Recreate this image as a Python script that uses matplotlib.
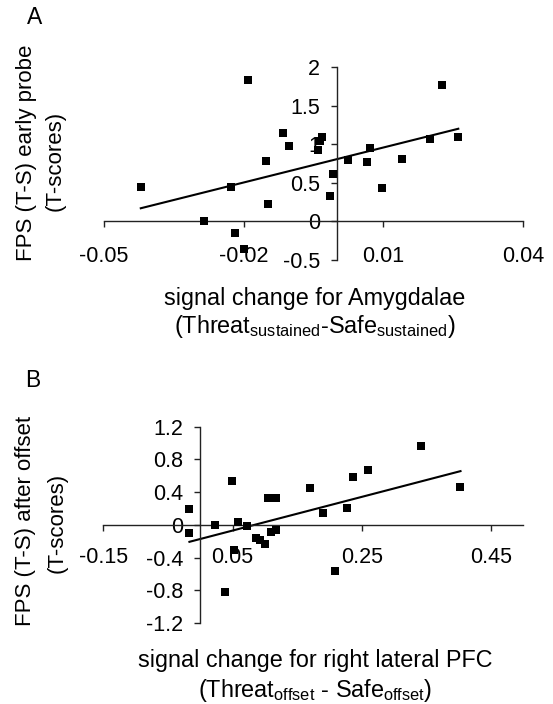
import matplotlib
matplotlib.use("Agg")
import matplotlib.pyplot as plt
import numpy as np

plt.rcParams['font.family'] = ['Liberation Sans', 'DejaVu Sans']
plt.rcParams['mathtext.default'] = 'regular'

# Panel A data
a_x = [-0.0421, -0.0190, -0.0228, -0.0286, -0.0219, -0.0199, -0.0151, -0.0148,
       -0.0115, -0.0103, -0.0031, -0.0036, -0.0041, -0.0009, -0.0015, 0.0024,
       0.0065, 0.0071, 0.0097, 0.0140, 0.0201, 0.0226, 0.0261]
a_y = [0.44, 1.83, 0.44, 0.00, -0.15, -0.36, 0.78, 0.22, 1.14, 0.98, 1.09, 1.04,
       0.92, 0.61, 0.33, 0.80, 0.77, 0.95, 0.43, 0.81, 1.07, 1.77, 1.09]
a_trend = (15.1, 0.806)  # slope, intercept
a_xticks = [-0.05, -0.02, 0.01, 0.04]
a_xticklabels = ['-0.05', '-0.02', '0.01', '0.04']
a_yticks = [-0.5, 0, 0.5, 1, 1.5, 2]
a_yticklabels = ['-0.5', '0', '0.5', '1', '1.5', '2']

# Panel B data
b_x = [-0.0167, -0.0167, 0.0228, 0.0489, 0.0530, 0.0577, 0.0730, 0.0858, 0.0925,
       0.0997, 0.1050, 0.1166, 0.1090, 0.1177, 0.1705, 0.1900, 0.2085, 0.2279,
       0.2361, 0.2602, 0.3423, 0.4028, 0.0386]
b_y = [0.19, -0.10, 0.00, 0.54, -0.31, 0.04, -0.02, -0.16, -0.18, -0.23, 0.33,
       0.33, -0.09, -0.06, 0.45, 0.14, -0.56, 0.21, 0.59, 0.67, 0.96, 0.46, -0.82]
b_trend = (2.06, -0.173)
b_xticks = [-0.15, 0.05, 0.25, 0.45]
b_xticklabels = ['-0.15', '0.05', '0.25', '0.45']
b_yticks = [-1.2, -0.8, -0.4, 0, 0.4, 0.8, 1.2]
b_yticklabels = ['-1.2', '-0.8', '-0.4', '0', '0.4', '0.8', '1.2']

W, H = 553, 704
fig = plt.figure(figsize=(W / 100, H / 100), dpi=100)

FS = 15.5
FS_X = 16.8
FS_Y = 16.0


def px_axes(x0, x1, ytop, ybot):
    return fig.add_axes([x0 / W, 1 - ybot / H, (x1 - x0) / W, (ybot - ytop) / H])


def style(ax, xs, ys, trend, xt, xtl, yt, ytl, xlim, ylim, xpad):
    ax.scatter(xs, ys, marker='s', s=30, color='black', linewidths=0, zorder=3)
    xx = np.array([min(xs), max(xs)])
    ax.plot(xx, trend[0] * xx + trend[1], color='black', lw=1.5, zorder=2)
    ax.set_xlim(*xlim)
    ax.set_ylim(*ylim)
    for s in ['top', 'right']:
        ax.spines[s].set_visible(False)
    ax.spines['left'].set_position(('data', 0))
    ax.spines['bottom'].set_position(('data', 0))
    for s in ['left', 'bottom']:
        ax.spines[s].set_linewidth(1.0)
        ax.spines[s].set_color('#222222')
    ax.set_xticks(xt)
    ax.set_xticklabels(xtl)
    ax.set_yticks(yt)
    ax.set_yticklabels(ytl)
    ax.tick_params(axis='x', direction='out', length=4.5, width=1, pad=xpad,
                   labelsize=FS, color='#222222')
    ax.tick_params(axis='y', direction='out', length=4.5, width=1, pad=7.5,
                   labelsize=FS, color='#222222')
    ax.patch.set_alpha(0)


axA = px_axes(104, 523, 67, 260)
style(axA, a_x, a_y, a_trend, a_xticks, a_xticklabels, a_yticks, a_yticklabels,
      (-0.05, 0.04), (-0.5, 2), 13)

axB = px_axes(103.3, 523.3, 426.7, 623)
style(axB, b_x, b_y, b_trend, b_xticks, b_xticklabels, b_yticks, b_yticklabels,
      (-0.15, 0.5), (-1.2, 1.2), 11.5)


def ftext(x, y, s, fs=FS, **kw):
    fig.text(x / W, 1 - y / H, s, fontsize=fs, ha='center', va='center', **kw)


ftext(35, 18, 'A', fs=16.5)
ftext(33, 381, 'B', fs=16.5)

ftext(27, 153, 'FPS (T-S) early probe', fs=FS_Y, rotation=90)
ftext(55, 161, '(T-scores)', fs=FS_Y, rotation=90)
ftext(315, 298, 'signal change for Amygdalae', fs=FS_X)
ftext(315, 327, '(Threat$_{sustained}$-Safe$_{sustained}$)', fs=FS_X)

ftext(26, 521, 'FPS (T-S) after offset', fs=FS_Y, rotation=90)
ftext(57, 523, '(T-scores)', fs=FS_Y, rotation=90)
ftext(315, 661, 'signal change for right lateral PFC', fs=FS_X)
ftext(315, 690, '(Threat$_{offset}$ - Safe$_{offset}$)', fs=FS_X)

fig.savefig('out.png', dpi=100, facecolor='white')
